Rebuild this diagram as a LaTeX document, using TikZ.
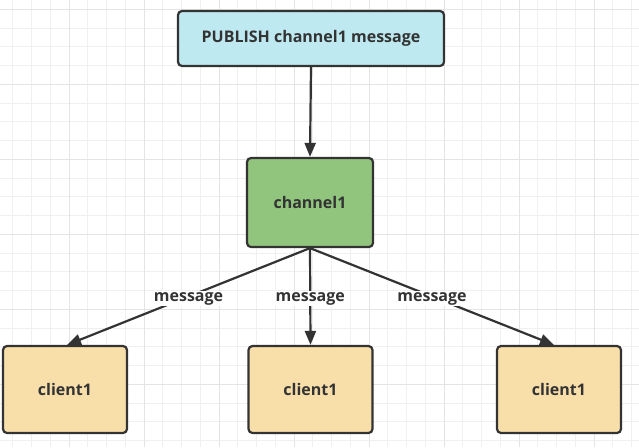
\documentclass[tikz,border=0pt]{standalone}
\usepackage{fontspec}
\setmainfont{Open Sans}
\usetikzlibrary{arrows.meta}
\definecolor{gridlight}{RGB}{240,240,240}
\definecolor{griddark}{RGB}{228,228,228}
\definecolor{edge}{RGB}{51,51,51}
\definecolor{txt}{RGB}{51,51,51}
\definecolor{pubfill}{RGB}{190,233,240}
\definecolor{chfill}{RGB}{145,196,125}
\definecolor{clfill}{RGB}{248,223,170}
\tikzset{
  box/.style={draw=edge, line width=2.2pt, rounded corners=4pt, text=txt,
    font=\bfseries\fontsize{16}{18}\selectfont, inner sep=0pt},
  conn/.style={draw=edge, line width=2.2pt, -{Triangle[length=14pt,width=11pt]}},
  lbl/.style={fill=white, text=txt, font=\bfseries\fontsize{16}{18}\selectfont, inner sep=1.5pt, yshift=-2pt}
}
\begin{document}
\begin{tikzpicture}[x=1pt,y=-1pt]
\useasboundingbox (0,0) rectangle (639,447);
\fill[white] (0,0) rectangle (639,447);
% grid
\foreach \i in {0,...,33} {
  \draw[gridlight, line width=0.8pt] ({12.7+18.75*\i},0) -- ({12.7+18.75*\i},447);
}
\foreach \i in {0,...,23} {
  \draw[gridlight, line width=0.8pt] (0,{9.3+18.75*\i}) -- (639,{9.3+18.75*\i});
}
\foreach \i in {0,...,8} {
  \draw[griddark, line width=0.8pt] ({69+75*\i},0) -- ({69+75*\i},447);
}
\foreach \i in {0,...,5} {
  \draw[griddark, line width=0.8pt] (0,{9.3+75*\i}) -- (639,{9.3+75*\i});
}
% nodes
\node[box, fill=pubfill, minimum width=266pt, minimum height=55pt] (pub) at (311,38.5) {PUBLISH channel1 message};
\node[box, fill=chfill, minimum width=126pt, minimum height=89pt] (ch) at (310,202.5) {channel1};
\node[box, fill=clfill, minimum width=124pt, minimum height=87pt] (c1) at (65,389.5) {client1};
\node[box, fill=clfill, minimum width=124pt, minimum height=87pt] (c2) at (310.5,389.5) {client1};
\node[box, fill=clfill, minimum width=124pt, minimum height=87pt] (c3) at (559,389.5) {client1};
% connectors
\draw[conn] (pub.south) -- (ch.north);
\draw[conn] (ch.south) -- node[lbl, pos=0.5] {message} ([xshift=2pt]c1.north);
\draw[conn] (ch.south) -- node[lbl, pos=0.5] {message} (c2.north);
\draw[conn] (ch.south) -- node[lbl, pos=0.5] {message} ([xshift=-5pt]c3.north);
\end{tikzpicture}
\end{document}
